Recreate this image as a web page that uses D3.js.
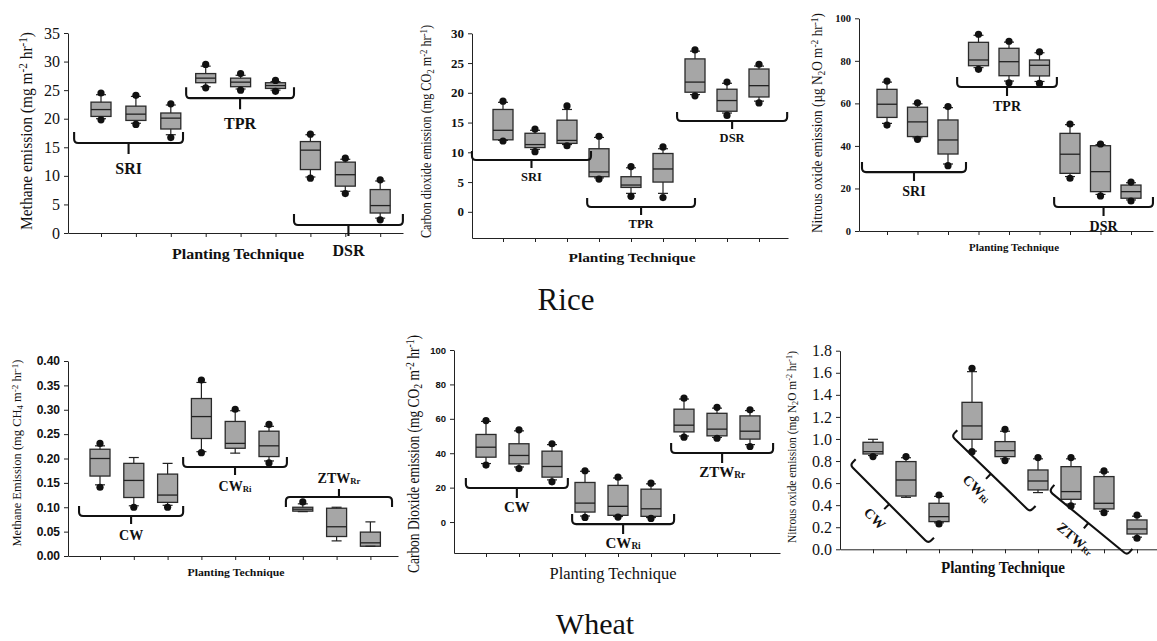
<!DOCTYPE html>
<html>
<head>
<meta charset="utf-8">
<script src="https://cdn.jsdelivr.net/npm/d3@7"></script>
<style>
  body { margin: 0; background: #fff; }
  svg { display: block; }
</style>
</head>
<body>
<script>
// each box: [p5 dot, p10 whisker, q1, median, q3, p90 whisker, p95 dot]
const riceGroups = [["SRI"], ["TPR"], ["DSR"]];
const wheatGroups = [["CW"], ["CW", "Ri"], ["ZTW", "Rr"]];

const riceCH4 = [
  [19.8, 20.0, 20.4, 21.6, 22.9, 24.2, 24.5],
  [19.0, 19.2, 19.7, 20.8, 22.2, 23.9, 24.1],
  [16.7, 17.2, 18.2, 20.1, 21.0, 22.4, 22.6],
  [25.4, 25.6, 26.3, 27.1, 27.9, 29.2, 29.5],
  [25.0, 25.2, 25.6, 26.4, 27.1, 27.6, 27.9],
  [24.8, 25.0, 25.3, 25.8, 26.3, 26.5, 26.7],
  [9.6, 9.8, 11.1, 14.5, 16.0, 17.2, 17.3],
  [6.9, 7.3, 8.2, 10.2, 12.4, 12.9, 13.1],
  [2.3, 2.6, 3.5, 4.8, 7.6, 9.1, 9.3]
];
const riceCO2 = [
  [11.9, 12.0, 12.1, 13.7, 17.2, 18.4, 18.6],
  [10.1, 10.5, 10.8, 11.3, 13.2, 13.7, 13.9],
  [11.1, 11.3, 11.5, 12.0, 15.4, 17.2, 17.8],
  [5.5, 5.7, 5.9, 6.7, 10.6, 12.5, 12.7],
  [2.6, 3.1, 4.1, 4.5, 5.9, 7.4, 7.6],
  [2.4, 3.1, 5.0, 7.2, 9.8, 10.6, 10.9],
  [19.5, 19.7, 20.1, 21.8, 25.7, 27.0, 27.2],
  [16.2, 16.6, 16.9, 18.7, 20.6, 21.6, 21.8],
  [18.3, 18.6, 19.3, 21.2, 24.0, 24.5, 24.8]
];
const riceN2O = [
  [49.8, 50.6, 53.4, 59.6, 66.6, 70.0, 70.5],
  [43.1, 43.8, 44.4, 51.3, 58.2, 59.8, 60.3],
  [30.7, 31.5, 36.2, 42.8, 52.2, 58.0, 58.5],
  [76.0, 76.8, 77.7, 80.4, 88.7, 92.0, 92.5],
  [69.7, 70.5, 73.0, 79.6, 85.9, 88.8, 89.2],
  [69.4, 70.3, 72.9, 77.9, 80.4, 83.8, 84.2],
  [24.8, 25.6, 27.1, 36.1, 45.9, 50.0, 50.3],
  [16.5, 17.2, 18.5, 27.9, 40.1, 40.6, 40.9],
  [14.1, 14.6, 15.4, 18.5, 21.6, 22.7, 23.0]
];
const wheatCH4 = [
  [0.141, 0.146, 0.164, 0.200, 0.219, 0.226, 0.231],
  [0.100, 0.103, 0.120, 0.155, 0.190, 0.202, null],
  [0.100, 0.104, 0.110, 0.125, 0.168, 0.190, null],
  [0.212, 0.214, 0.241, 0.286, 0.323, 0.356, 0.361],
  [null, 0.211, 0.221, 0.231, 0.276, 0.298, 0.301],
  [0.191, 0.195, 0.204, 0.226, 0.256, 0.266, 0.270],
  [null, 0.091, 0.092, 0.096, 0.100, 0.107, 0.111],
  [null, 0.031, 0.040, 0.060, 0.098, 0.100, null],
  [null, 0.020, 0.020, 0.027, 0.049, 0.070, null]
];
const wheatCO2 = [
  [33.1, 34.0, 37.7, 43.5, 50.9, 58.5, 59.0],
  [31.1, 32.0, 33.8, 38.7, 45.5, 53.0, 53.6],
  [23.4, 24.5, 26.1, 32.3, 41.2, 45.0, 45.5],
  [2.7, 3.5, 5.8, 11.0, 23.0, 29.5, 29.8],
  [2.9, 3.2, 3.9, 9.1, 21.3, 25.6, 26.1],
  [2.1, 2.6, 3.3, 7.7, 19.1, 22.2, 22.6],
  [49.3, 50.0, 52.4, 56.3, 65.6, 71.5, 72.0],
  [48.7, 49.2, 50.1, 54.0, 63.2, 66.2, 66.7],
  [43.9, 45.0, 48.2, 52.8, 61.7, 64.8, 65.2]
];
const wheatN2O = [
  [0.840, 0.850, 0.864, 0.885, 0.970, 0.997, null],
  [null, 0.471, 0.483, 0.628, 0.795, 0.830, 0.840],
  [0.230, 0.240, 0.251, 0.296, 0.417, 0.480, 0.492],
  [0.885, 0.890, 0.997, 1.118, 1.332, 1.610, 1.640],
  [0.804, 0.820, 0.840, 0.894, 0.976, 1.070, 1.088],
  [null, 0.514, 0.538, 0.619, 0.719, 0.820, 0.831],
  [0.393, 0.410, 0.453, 0.523, 0.749, 0.820, 0.831],
  [0.332, 0.345, 0.366, 0.417, 0.659, 0.700, 0.710],
  [0.100, 0.110, 0.139, 0.184, 0.266, 0.300, 0.311]
];

const riceCH4Ticks = [0, 5, 10, 15, 20, 25, 30, 35];
const riceCO2Ticks = [0, 5, 10, 15, 20, 25, 30];
const riceN2OTicks = [0, 20, 40, 60, 80, 100];
const wheatCH4Ticks = [0, 0.05, 0.10, 0.15, 0.20, 0.25, 0.30, 0.35, 0.40];
const wheatCO2Ticks = [0, 20, 40, 60, 80, 100];
const wheatN2OTicks = [0, 0.2, 0.4, 0.6, 0.8, 1.0, 1.2, 1.4, 1.6, 1.8];

const W = 1157, H = 641;
const SERIF = "'Liberation Serif', 'Times New Roman', serif";
const SANS = "'Liberation Sans', Arial, sans-serif";

const svg = d3.select("body").append("svg").attr("width", W).attr("height", H);

// title pieces: [text, "sup"|"sub"|null]
const panels = [
  {
    data: riceCH4, groups: riceGroups, ticks: riceCH4Ticks, fmt: d3.format("d"),
    x0: 68, x1: 403, xFirst: 101, step: 34.9,
    yDomain: [0, 35], yRange: [233, 33],
    tickFont: SERIF, tickSize: 16, tickWeight: "normal",
    yTitle: [["Methane emission (mg m"], ["-2", "sup"], [" hr"], ["-1", "sup"], [")"]],
    yt: { cx: 27, cy: 131, fs: 16, len: 198 },
    xt: { cx: 238, cy: 254, fs: 14, len: 132, weight: "bold" },
    lab: { fs: 16, off: 25 }, hook: 11, tick: 11,
    brackets: [
      { u0: 0.23, v0: 15.75, u1: 3.35, v1: 15.75 },
      { u0: 3.44, v0: 23.6, u1: 6.53, v1: 23.6 },
      { u0: 6.53, v0: 1.4, u1: 9.65, v1: 1.4 }
    ]
  },
  {
    data: riceCO2, groups: riceGroups, ticks: riceCO2Ticks, fmt: d3.format("d"),
    x0: 472, x1: 788, xFirst: 503, step: 32,
    yDomain: [-4.4, 30], yRange: [238, 33.3],
    tickFont: SERIF, tickSize: 13, tickWeight: "bold",
    yTitle: [["Carbon dioxide emission (mg CO"], ["2", "sub"], [" m"], ["-2", "sup"], [" hr"], ["-1", "sup"], [")"]],
    yt: { cx: 426.5, cy: 131.5, fs: 14, len: 213 },
    xt: { cx: 632, cy: 257, fs: 13.5, len: 127, weight: "bold" },
    lab: { fs: 12.5, off: 17 }, hook: 9, tick: 8,
    brackets: [
      { u0: 0.03, v0: 8.7, u1: 3.75, v1: 8.7 },
      { u0: 3.63, v0: 0.8, u1: 7.0, v1: 0.8 },
      { u0: 6.44, v0: 15.25, u1: 9.88, v1: 15.25 }
    ]
  },
  {
    data: riceN2O, groups: riceGroups, ticks: riceN2OTicks, fmt: d3.format("d"),
    x0: 859, x1: 1153, xFirst: 887, step: 30.5,
    yDomain: [0, 100], yRange: [231, 18.3],
    tickFont: SERIF, tickSize: 10.5, tickWeight: "bold",
    yTitle: [["Nitrous oxide emission (\u00b5g N"], ["2", "sub"], ["O m"], ["-2", "sup"], [" hr"], ["-1", "sup"], [")"]],
    yt: { cx: 817, cy: 123, fs: 15, len: 220 },
    xt: { cx: 1014, cy: 247, fs: 11, len: 90, weight: "bold" },
    lab: { fs: 14, off: 19 }, hook: 10, tick: 9,
    brackets: [
      { u0: 0.18, v0: 27.7, u1: 3.59, v1: 27.7 },
      { u0: 3.30, v0: 67.7, u1: 6.57, v1: 67.7 },
      { u0: 6.48, v0: 11.3, u1: 9.72, v1: 11.3 }
    ]
  },
  {
    data: wheatCH4, groups: wheatGroups, ticks: wheatCH4Ticks, fmt: d3.format(".2f"),
    x0: 68, x1: 398, xFirst: 100, step: 33.8,
    yDomain: [0, 0.4], yRange: [556, 361],
    tickFont: SANS, tickSize: 12, tickWeight: "bold",
    yTitle: [["Methane Emission (mg CH"], ["4", "sub"], [" m"], ["-2", "sup"], [" hr"], ["-1", "sup"], [")"]],
    yt: { cx: 17, cy: 453, fs: 11.5, len: 187 },
    xt: { cx: 236, cy: 572, fs: 11, len: 97, weight: "bold" },
    lab: { fs: 14, off: 19 }, hook: 10, tick: 8,
    brackets: [
      { u0: 0.38, v0: 0.082, u1: 3.46, v1: 0.082 },
      { u0: 3.46, v0: 0.1826, u1: 6.53, v1: 0.1826 },
      { u0: 6.50, v0: 0.121, u1: 9.64, v1: 0.121, flip: true }
    ]
  },
  {
    data: wheatCO2, groups: wheatGroups, ticks: wheatCO2Ticks, fmt: d3.format("d"),
    x0: 454, x1: 780, xFirst: 486, step: 33,
    yDomain: [-18, 100], yRange: [553, 350],
    tickFont: SANS, tickSize: 9.5, tickWeight: "bold",
    yTitle: [["Carbon Dioxide emission (mg CO"], ["2", "sub"], [" m"], ["-2", "sup"], [" hr"], ["-1", "sup"], [")"]],
    yt: { cx: 413.5, cy: 454, fs: 16, len: 238 },
    xt: { cx: 613, cy: 573, fs: 17, len: 127, weight: "normal" },
    lab: { fs: 15, off: 19 }, hook: 10, tick: 10,
    brackets: [
      { u0: 0.39, v0: 19.8, u1: 3.48, v1: 19.8 },
      { u0: 3.61, v0: -1.2, u1: 6.70, v1: -1.2 },
      { u0: 6.61, v0: 40.1, u1: 9.70, v1: 40.1 }
    ]
  },
  {
    data: wheatN2O, groups: wheatGroups, ticks: wheatN2OTicks, fmt: d3.format(".1f"),
    x0: 840, x1: 1157, xFirst: 873, step: 33,
    yDomain: [0, 1.8], yRange: [549.3, 350.7],
    tickFont: SERIF, tickSize: 16, tickWeight: "normal",
    yTitle: [["Nitrous oxide emission (mg N"], ["2", "sub"], ["O m"], ["-2", "sup"], [" hr"], ["-1", "sup"], [")"]],
    yt: { cx: 792, cy: 447, fs: 12, len: 192 },
    xt: { cx: 1003, cy: 567, fs: 16, len: 124, weight: "bold" },
    lab: { fs: 14, off: 20 }, hook: 8, tick: 7,
    brackets: [
      { u0: 0.303, v0: 0.764, u1: 2.676, v1: 0.054 },
      { u0: 3.385, v0: 1.027, u1: 5.758, v1: 0.341 },
      { u0: 6.342, v0: 0.528, u1: 8.706, v1: -0.052 }
    ]
  }
];

function addPieces(sel, pieces) {
  pieces.forEach(function(p) {
    const t = sel.append("tspan").text(p[0]);
    if (p[1]) t.attr("baseline-shift", p[1] === "sup" ? "40%" : "-25%").attr("font-size", "72%");
  });
}

function drawPanel(p) {
  const x = d3.scaleLinear()
    .domain([1 - (p.xFirst - p.x0) / p.step, 1 + (p.x1 - p.xFirst) / p.step])
    .range([p.x0, p.x1]);
  const y = d3.scaleLinear().domain(p.yDomain).range(p.yRange);
  const g = svg.append("g");
  const yBottom = p.yRange[0];

  // axes
  const ya = g.append("g")
    .attr("transform", "translate(" + p.x0 + ",0)")
    .call(d3.axisLeft(y).tickValues(p.ticks).tickFormat(p.fmt).tickSize(4).tickSizeOuter(0).tickPadding(4));
  ya.attr("font-family", p.tickFont);
  ya.selectAll("text").attr("font-family", p.tickFont).attr("font-size", p.tickSize)
    .attr("font-weight", p.tickWeight).attr("fill", "#111");
  ya.selectAll("line,path").attr("stroke", "#222");

  const xa = g.append("g")
    .attr("transform", "translate(0," + yBottom + ")")
    .call(d3.axisBottom(x).tickValues(d3.range(1, 10)).tickFormat("").tickSize(4).tickSizeOuter(0));
  xa.selectAll("line,path").attr("stroke", "#222");

  // boxes
  const bw = 20, cw = 10;
  const box = g.selectAll("g.box").data(p.data).enter().append("g")
    .attr("class", "box")
    .attr("transform", function(d, i) { return "translate(" + x(i + 1) + ",0)"; });

  box.append("line").attr("x1", 0).attr("x2", 0)
    .attr("y1", d => y(d[1])).attr("y2", d => y(d[5]))
    .attr("stroke", "#222").attr("stroke-width", 1.2);
  box.append("rect").attr("x", -bw / 2).attr("width", bw)
    .attr("y", d => y(d[4])).attr("height", d => y(d[2]) - y(d[4]))
    .attr("fill", "#a6a6a6").attr("stroke", "#2a2a2a").attr("stroke-width", 1.3);
  box.append("line").attr("x1", -bw / 2).attr("x2", bw / 2)
    .attr("y1", d => y(d[3])).attr("y2", d => y(d[3]))
    .attr("stroke", "#222").attr("stroke-width", 1.3);
  [1, 5].forEach(function(k) {
    box.append("line").attr("x1", -cw / 2).attr("x2", cw / 2)
      .attr("y1", d => y(d[k])).attr("y2", d => y(d[k]))
      .attr("stroke", "#222").attr("stroke-width", 1.2);
  });
  [0, 6].forEach(function(k) {
    box.filter(d => d[k] != null).append("circle")
      .attr("cx", 0).attr("cy", d => y(d[k])).attr("r", 3.6).attr("fill", "#111");
  });

  // group brackets
  p.brackets.forEach(function(b, gi) {
    const ax = x(b.u0), ay = y(b.v0), bx = x(b.u1), by = y(b.v1);
    const len = Math.hypot(bx - ax, by - ay);
    const ang = Math.atan2(by - ay, bx - ax) * 180 / Math.PI;
    const s = b.flip ? -1 : 1;
    const h = p.hook * s, t = p.tick * s, r = 4, L = len / 2;
    const bg = g.append("g")
      .attr("transform", "translate(" + ((ax + bx) / 2) + "," + ((ay + by) / 2) + ") rotate(" + ang + ")");
    bg.append("path")
      .attr("d", "M" + (-L) + "," + (-h) + "L" + (-L) + "," + (-r * s) +
        "Q" + (-L) + ",0 " + (-L + r) + ",0L" + (L - r) + ",0Q" + L + ",0 " + L + "," + (-r * s) +
        "L" + L + "," + (-h) + "M0,0L0," + t)
      .attr("fill", "none").attr("stroke", "#111").attr("stroke-width", 2.1);
    const lab = p.groups[gi];
    const tx = bg.append("text")
      .attr("x", 0).attr("y", p.lab.off * s)
      .attr("text-anchor", "middle").attr("dominant-baseline", "central")
      .attr("font-family", SERIF).attr("font-weight", "bold").attr("font-size", p.lab.fs)
      .attr("fill", "#111");
    tx.append("tspan").text(lab[0]);
    if (lab[1]) tx.append("tspan").text(lab[1]).attr("font-size", "62%").attr("baseline-shift", "-30%");
  });

  // axis titles
  const ytx = g.append("text")
    .attr("transform", "translate(" + (p.yt.cx + p.yt.fs * 0.33) + "," + p.yt.cy + ") rotate(-90)")
    .attr("text-anchor", "middle")
    .attr("font-family", SERIF).attr("font-size", p.yt.fs).attr("fill", "#111")
    .attr("textLength", p.yt.len).attr("lengthAdjust", "spacingAndGlyphs");
  addPieces(ytx, p.yTitle);

  g.append("text")
    .attr("x", p.xt.cx).attr("y", p.xt.cy)
    .attr("text-anchor", "middle").attr("dominant-baseline", "central")
    .attr("font-family", SERIF).attr("font-size", p.xt.fs).attr("font-weight", p.xt.weight)
    .attr("fill", "#111")
    .attr("textLength", p.xt.len).attr("lengthAdjust", "spacingAndGlyphs")
    .text("Planting Technique");
}

panels.forEach(drawPanel);

// crop captions
svg.append("text").attr("x", 566).attr("y", 310).attr("text-anchor", "middle")
  .attr("font-family", SERIF).attr("font-size", 31).attr("fill", "#111").text("Rice");
svg.append("text").attr("x", 595).attr("y", 634).attr("text-anchor", "middle")
  .attr("font-family", SERIF).attr("font-size", 30).attr("fill", "#111").text("Wheat");
</script>
</body>
</html>
